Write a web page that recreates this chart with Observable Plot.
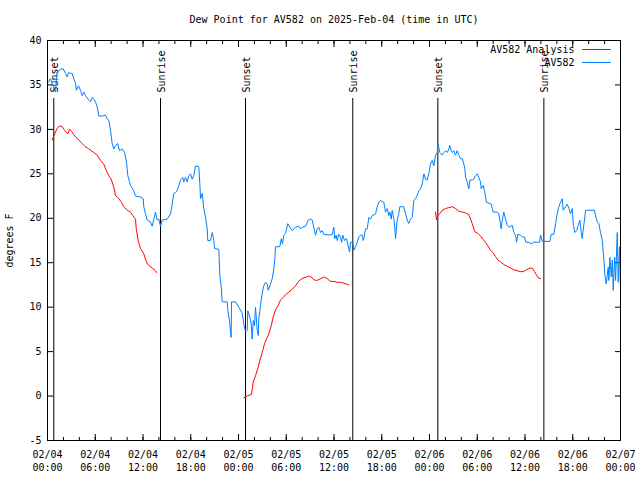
<!DOCTYPE html>
<html><head><meta charset="utf-8">
<script src="https://cdn.jsdelivr.net/npm/d3@7"></script>
<script src="https://cdn.jsdelivr.net/npm/@observablehq/plot@0.6"></script>
<style>html,body{margin:0;padding:0;background:#fff;}</style>
</head><body><div id="chart"></div>
<script>
const title = "Dew Point for AV582 on 2025-Feb-04 (time in UTC)";
const yLabel = "degrees F";
const startTime = "2025-02-04T00:00:00Z";
const endTime = "2025-02-07T00:00:00Z";
const seriesNames = ["AV582 Analysis", "AV582"];
const seriesColors = ["#ff0000", "#0080ff"];
const yTicks = [-5, 0, 5, 10, 15, 20, 25, 30, 35, 40];

// hours since 2025-02-04 00:00 UTC
const eventHours = [0.79, 14.20, 24.88, 38.36, 49.05, 62.37];
const eventLabels = ["Sunset", "Sunrise", "Sunset", "Sunrise", "Sunset", "Sunrise"];

// AV582 observations
const obsHours = [0.09,0.38,0.63,1.01,1.19,1.63,1.97,2.26,2.48,2.64,2.89,3.10,3.30,3.52,3.64,3.90,4.15,4.36,4.56,4.78,5.19,5.40,5.62,5.82,6.03,6.25,6.45,6.87,7.29,7.50,7.70,7.92,8.13,8.33,8.54,8.83,9.05,9.39,9.68,9.93,10.09,10.43,10.84,11.06,11.69,12.03,12.10,12.31,12.53,12.94,13.16,13.36,13.57,13.78,13.99,14.20,14.41,15.04,15.46,15.67,15.87,16.08,16.30,16.50,16.71,17.00,17.13,17.34,17.55,17.76,17.97,18.18,18.38,18.60,19.01,19.14,19.23,19.44,19.64,19.85,20.07,20.14,20.48,20.70,20.90,20.99,21.53,21.65,21.83,21.95,22.58,22.66,22.87,23.00,23.08,23.12,23.62,24.04,24.47,24.67,24.88,25.09,25.17,25.42,25.60,25.72,25.85,26.01,26.14,26.35,26.48,26.55,26.68,26.85,27.05,27.18,27.39,27.61,27.73,27.93,28.24,28.44,28.56,28.65,29.19,29.37,29.53,29.69,29.91,30.20,30.45,30.75,30.95,31.16,31.58,31.79,32.01,32.42,32.76,33.05,33.26,33.46,33.68,33.89,34.09,34.31,34.52,34.72,35.35,35.78,35.98,36.10,36.28,36.40,36.61,36.82,36.94,37.11,37.32,37.57,37.79,37.95,38.08,38.36,38.49,38.70,38.92,39.12,39.33,39.55,39.67,39.75,39.96,40.17,40.38,40.59,40.80,41.22,41.43,41.63,41.84,42.26,42.47,42.69,42.89,43.01,43.19,43.31,43.52,43.64,43.73,43.94,44.14,44.27,44.77,44.99,45.20,45.40,45.62,45.83,46.03,46.24,46.46,46.66,46.87,47.09,47.29,47.50,47.71,47.91,48.13,48.34,48.54,48.76,48.97,49.05,49.30,49.60,49.80,50.01,50.23,50.43,50.55,50.73,50.86,51.06,51.27,51.48,51.68,51.90,52.11,52.31,52.44,52.53,52.74,52.94,53.07,53.37,53.57,53.78,54.00,54.20,54.41,54.50,54.75,54.91,55.04,55.16,55.76,55.88,56.01,56.51,56.71,56.84,56.92,57.01,57.14,57.34,57.55,57.77,57.97,58.40,58.60,58.81,58.94,59.10,59.44,59.66,59.94,60.11,60.49,60.78,61.04,61.83,61.96,62.17,63.12,63.30,63.62,63.84,64.05,64.25,64.46,64.68,64.80,65.09,65.31,65.51,65.72,65.93,66.06,66.26,66.48,66.69,66.89,67.07,67.19,67.32,67.48,67.61,68.74,68.86,69.08,69.28,69.49,69.71,69.91,70.04,70.21,70.34,70.46,70.54,70.67,70.84,70.97,71.09,71.26,71.38,71.59,71.72,71.87,72.00];
const obsValues = [35.3,35.7,35.0,34.2,36.4,36.8,36.8,36.3,35.9,36.4,36.3,36.3,35.7,35.2,34.4,34.9,34.4,33.8,34.2,33.8,33.3,33.1,33.6,33.4,33.1,32.5,31.5,31.5,31.6,31.2,31.0,29.9,28.4,27.8,28.2,28.4,27.6,27.8,27.4,26.3,24.8,23.7,23.1,22.5,22.4,22.2,21.3,20.5,19.8,19.6,19.1,19.9,20.7,19.8,19.9,19.1,19.8,19.9,20.5,21.6,22.8,22.9,23.1,23.7,24.3,24.6,24.1,24.6,24.1,24.8,25.0,24.4,24.8,25.9,25.8,23.9,22.2,22.8,21.1,20.1,18.8,17.5,17.5,18.4,17.5,16.6,16.5,13.6,12.3,10.6,10.6,9.6,8.5,7.2,6.6,10.6,10.6,10.0,9.3,8.1,7.2,7.4,9.6,8.9,8.1,6.4,8.5,7.9,10.0,7.4,6.8,8.7,9.6,10.8,11.9,12.4,12.8,12.6,11.9,12.4,13.2,14.3,15.3,16.8,16.8,17.7,17.1,18.1,18.3,19.4,19.0,18.6,18.8,19.0,19.1,18.8,19.0,19.1,19.8,19.9,19.8,19.0,18.1,18.8,19.0,18.4,18.6,18.2,18.1,18.2,19.0,17.7,18.1,17.5,18.2,17.9,17.3,18.1,17.5,17.7,16.9,16.2,17.3,17.3,16.4,16.8,17.3,17.9,18.1,18.1,17.5,17.7,18.8,18.8,20.1,19.9,20.3,20.5,21.3,21.8,22.0,21.8,20.7,21.1,20.3,20.7,19.9,20.9,19.9,19.0,17.7,19.8,20.5,21.3,21.3,20.5,19.8,19.4,19.9,20.1,22.0,22.2,22.6,23.1,23.3,23.9,25.0,24.4,24.3,25.0,26.1,26.5,25.9,27.1,27.4,28.4,27.4,27.1,27.4,27.6,27.4,27.8,28.2,27.6,27.4,27.6,27.1,27.6,27.1,26.7,26.7,26.1,25.6,24.6,24.1,23.3,24.3,24.3,24.4,24.8,25.0,24.6,24.1,23.3,23.7,23.1,22.4,21.8,21.6,21.1,20.7,20.7,20.5,19.8,19.2,18.8,19.8,20.7,19.9,19.2,19.0,19.2,18.4,18.1,17.3,18.2,18.1,17.9,17.9,17.3,17.3,17.1,17.3,17.3,18.1,17.4,17.4,18.2,18.2,19.4,20.5,21.3,21.8,22.2,20.9,21.3,21.6,21.1,20.5,21.1,19.4,18.4,18.6,19.2,19.8,18.4,17.7,18.8,19.8,20.9,20.9,20.3,19.6,19.4,18.4,17.5,15.4,13.6,12.6,13.6,14.5,13.0,15.6,13.4,15.3,11.9,15.6,13.0,18.4,12.8,16.8,11.9];

// AV582 Analysis (three separate runs)
const anaHours = [0.59,0.79,1.22,1.51,1.85,2.05,2.35,2.55,2.76,3.02,3.30,3.61,3.93,4.36,4.69,5.19,5.82,6.25,6.66,7.07,7.38,7.70,8.00,8.33,8.54,8.96,9.30,9.59,10.02,10.43,10.72,11.06,11.15,11.44,11.69,12.10,12.31,12.53,12.73,13.16,13.57,13.70,
  24.67,25.09,25.64,25.85,26.14,26.43,26.68,26.98,27.27,27.61,27.81,28.11,28.36,28.65,28.94,29.28,29.62,29.91,30.32,30.75,31.16,31.45,31.79,32.21,32.55,32.84,33.14,33.46,33.80,34.09,34.52,34.81,35.15,35.56,35.98,36.40,36.82,37.23,37.57,37.86,
  48.76,48.88,49.05,49.39,49.60,50.01,50.43,50.86,51.27,51.68,52.11,52.53,52.94,53.16,53.37,53.57,53.78,54.07,54.41,54.75,55.04,55.33,55.67,56.01,56.30,56.58,56.92,57.34,57.77,58.18,58.60,59.02,59.44,59.78,60.19,60.61,60.91,61.20,61.45,61.66,61.96];
const anaValues = [28.8,29.3,30.1,30.4,30.3,30.0,29.7,29.5,30.0,29.8,29.4,29.1,28.8,28.4,28.1,27.8,27.4,27.1,26.5,26.1,25.4,24.8,24.4,23.5,22.6,22.2,21.8,21.3,20.9,20.7,20.3,19.9,18.8,17.3,16.6,16.0,15.4,14.9,14.7,14.4,14.1,13.9,
  -0.2,0.0,0.2,1.6,2.3,3.1,4.0,4.9,5.9,6.6,7.0,7.9,8.9,9.7,10.1,10.8,11.1,11.4,11.7,12.0,12.4,12.8,13.1,13.3,13.4,13.5,13.4,13.1,13.0,13.1,13.3,13.4,13.2,12.9,12.9,12.8,12.8,12.7,12.6,12.5,
  20.7,19.8,20.3,20.6,20.9,21.1,21.2,21.3,21.1,20.8,20.7,20.6,20.4,19.9,19.4,18.8,18.4,18.3,18.0,17.6,17.3,16.9,16.4,16.1,15.7,15.3,15.1,14.8,14.6,14.4,14.2,14.1,14.0,14.0,14.2,14.4,14.4,14.0,13.6,13.3,13.2];
const anaRuns = [].concat(Array(42).fill(1), Array(40).fill(2), Array(41).fill(3));

const t0 = Date.parse(startTime);
const toDate = h => new Date(t0 + h * 3600e3);
const obs = obsHours.map((h, i) => ({t: toDate(h), v: obsValues[i]}));
const ana = anaHours.map((h, i) => ({t: toDate(h), v: anaValues[i], run: anaRuns[i]}));
const events = eventHours.map((h, i) => ({t: toDate(h), label: eventLabels[i]}));
const x0 = new Date(startTime), x1 = new Date(endTime);
const majorTicks = d3.utcHour.every(6).range(x0, new Date(+x1 + 1));
const minorTicks = d3.utcHour.every(2).range(x0, new Date(+x1 + 1));
const fmt = d3.utcFormat("%m/%d\n%H:%M");
const lineShape = {draw(ctx, l) { ctx.moveTo(0, 0); ctx.lineTo(0, -l); }};

const chart = Plot.plot({
  width: 640, height: 480,
  marginLeft: 47, marginRight: 20, marginTop: 40, marginBottom: 40,
  style: {fontFamily: "'DejaVu Sans Mono', monospace", fontSize: "10px", background: "#fff", color: "#000"},
  x: {type: "utc", domain: [x0, x1]},
  y: {domain: [-5, 40]},
  marks: [
    Plot.axisX({ticks: majorTicks, tickFormat: fmt, tickSize: 0, tickPadding: 8, lineHeight: 1.3, label: null}),
    Plot.axisX({ticks: majorTicks, tickSize: 6, dy: -6, fill: "none", label: null}),
    Plot.axisX({ticks: minorTicks, tickSize: 3, dy: -3, fill: "none", label: null}),
    Plot.axisX({anchor: "top", ticks: majorTicks, tickSize: 6, dy: 6, fill: "none", label: null}),
    Plot.axisX({anchor: "top", ticks: minorTicks, tickSize: 3, dy: 3, fill: "none", label: null}),
    Plot.axisY({ticks: yTicks, tickFormat: d => String(d), tickSize: 0, tickPadding: 6, label: yLabel, labelAnchor: "center", labelArrow: "none", labelOffset: 42}),
    Plot.axisY({ticks: yTicks, tickSize: 6, dx: 6, fill: "none", label: null}),
    Plot.axisY({anchor: "right", ticks: yTicks, tickSize: 6, dx: -6, fill: "none", label: null}),
    Plot.ruleX(events, {x: "t", insetTop: 58, stroke: "#000", strokeWidth: 1}),
    Plot.text(events, {x: "t", text: "label", rotate: -90, frameAnchor: "top", textAnchor: "start", lineAnchor: "middle", dy: 52, dx: 1, fill: "#000"}),
    Plot.line(ana, {x: "t", y: "v", z: "run", stroke: seriesColors[0], strokeWidth: 1}),
    Plot.line(obs, {x: "t", y: "v", stroke: seriesColors[1], strokeWidth: 1}),
    Plot.frame({stroke: "#000", strokeWidth: 1}),
    Plot.text([title], {frameAnchor: "top", lineAnchor: "middle", dy: -21, fill: "#000"}),
    Plot.text([seriesNames[0]], {frameAnchor: "top-right", textAnchor: "end", lineAnchor: "middle", dx: -46, dy: 9, fill: "#000"}),
    Plot.text([seriesNames[1]], {frameAnchor: "top-right", textAnchor: "end", lineAnchor: "middle", dx: -46, dy: 22, fill: "#000"}),
    Plot.vector([0], {frameAnchor: "top-right", length: 28, rotate: 90, anchor: "start", dx: -38, dy: 9, shape: lineShape, stroke: seriesColors[0], strokeWidth: 1}),
    Plot.vector([0], {frameAnchor: "top-right", length: 28, rotate: 90, anchor: "start", dx: -38, dy: 22, shape: lineShape, stroke: seriesColors[1], strokeWidth: 1})
  ]
});
document.getElementById("chart").appendChild(chart);
</script>
</body></html>
